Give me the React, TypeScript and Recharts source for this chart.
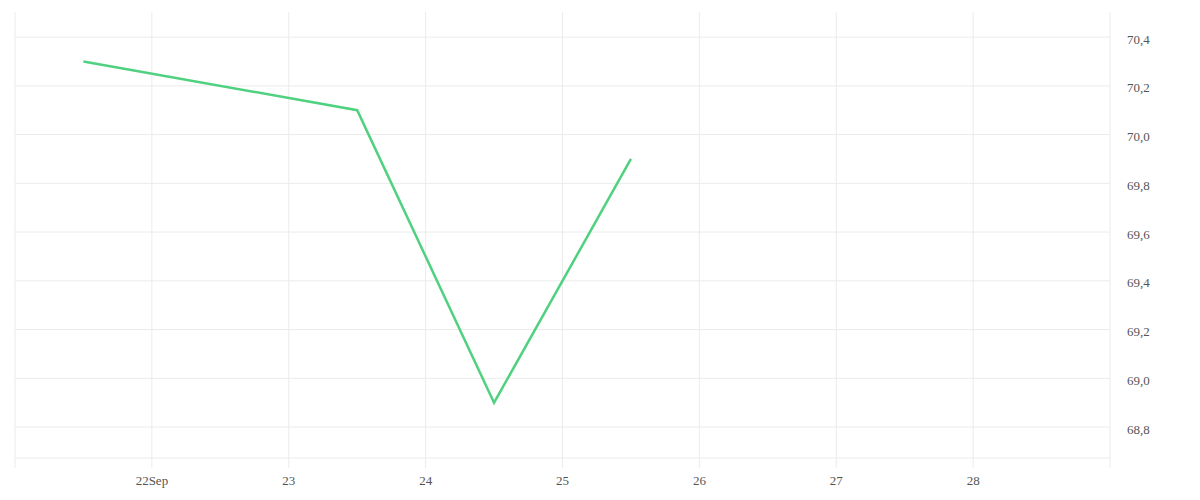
import { LineChart, Line, XAxis, YAxis, CartesianGrid, ReferenceLine } from 'recharts';

// day of month (Sep), points sit at mid-day
const days = [21.5, 23.5, 24.5, 25.5];
const values = [70.3, 70.1, 68.9, 69.9];

const xTicks = [21, 22, 23, 24, 25, 26, 27, 28, 29];
const yTicks = [68.673, 68.8, 69.0, 69.2, 69.4, 69.6, 69.8, 70.0, 70.2, 70.4];

const data = days.map((day, i) => ({ day, value: values[i] }));

const formatDay = (v: number) => {
  if (v === 21 || v === 29) return '';
  if (v === 22) return '22Sep';
  return String(v);
};

const formatValue = (v: number) => {
  if (v < 68.7) return '';
  return v.toFixed(1).replace('.', ',');
};

export default function App() {
  return (
    <div style={{ position: 'absolute', left: 0, top: 0, background: '#fff' }}>
      <LineChart width={1200} height={500} data={data} margin={{ top: 12, right: 0, left: 15, bottom: 12 }}>
        <CartesianGrid stroke="#ebebeb" horizontal={false} />
        {yTicks.map((t) => (
          <ReferenceLine key={t} y={t} stroke="#ebebeb" strokeWidth={1} />
        ))}
        <XAxis
          dataKey="day"
          type="number"
          domain={[21, 29]}
          ticks={xTicks}
          tickFormatter={formatDay}
          axisLine={false}
          tickLine={{ stroke: '#ebebeb' }}
          tickSize={10}
          tickMargin={8}
          height={30}
          interval={0}
          tick={{ fill: '#555', fontSize: 13 }}
        />
        <YAxis
          orientation="right"
          type="number"
          domain={[68.673, 70.503]}
          ticks={yTicks}
          tickFormatter={formatValue}
          axisLine={false}
          tickLine={false}
          tickMargin={11}
          width={90}
          interval={0}
          tick={{ fill: '#555', fontSize: 13, textAnchor: 'start', dy: 2 }}
        />
        <Line
          type="linear"
          dataKey="value"
          stroke="#4fd17f"
          strokeWidth={2.5}
          dot={false}
          isAnimationActive={false}
        />
      </LineChart>
    </div>
  );
}
